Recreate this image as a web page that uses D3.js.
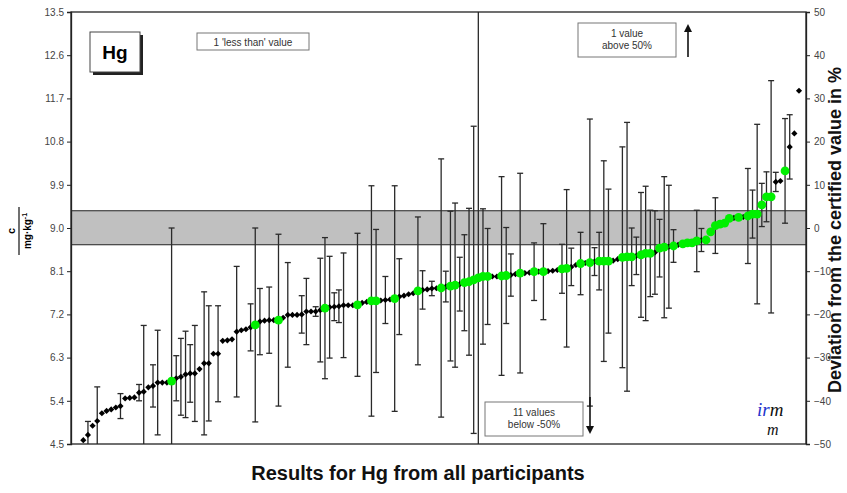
<!DOCTYPE html>
<html>
<head>
<meta charset="utf-8">
<script src="https://cdn.jsdelivr.net/npm/d3@7"></script>
<style>
  body { margin: 0; background: #fff; }
  svg { display: block; font-family: 'Liberation Sans', Arial, sans-serif; }
</style>
</head>
<body>
<svg id="chart"></svg>
<script>
// Results for Hg, sorted ascending (mg/kg)
const results = [
  4.58, 4.69, 4.88, 4.98, 5.14, 5.19, 5.22, 5.26, 5.29, 5.45,
  5.46, 5.47, 5.57, 5.59, 5.68, 5.71, 5.78, 5.78, 5.78, 5.81,
  5.87, 5.90, 5.95, 5.97, 5.97, 6.06, 6.18, 6.18, 6.38, 6.38,
  6.65, 6.66, 6.68, 6.84, 6.87, 6.89, 6.93, 6.98, 7.05, 7.07,
  7.08, 7.08, 7.08, 7.13, 7.19, 7.19, 7.19, 7.20, 7.26, 7.26,
  7.26, 7.29, 7.33, 7.35, 7.36, 7.37, 7.39, 7.39, 7.39, 7.40,
  7.44, 7.46, 7.48, 7.48, 7.49, 7.50, 7.51, 7.53, 7.57, 7.59,
  7.62, 7.64, 7.69, 7.71, 7.72, 7.74, 7.745, 7.75, 7.78, 7.79,
  7.81, 7.83, 7.86, 7.88, 7.92, 7.96, 7.99, 7.99, 7.99, 7.99,
  8.00, 8.01, 8.02, 8.04, 8.06, 8.06, 8.07, 8.09, 8.09, 8.09,
  8.10, 8.11, 8.125, 8.15, 8.16, 8.19, 8.23, 8.26, 8.27, 8.28,
  8.30, 8.31, 8.31, 8.31, 8.32, 8.35, 8.39, 8.40, 8.40, 8.42,
  8.44, 8.47, 8.47, 8.49, 8.58, 8.60, 8.61, 8.625, 8.65, 8.67,
  8.69, 8.69, 8.73, 8.75, 8.75, 8.92, 9.05, 9.08, 9.10, 9.20,
  9.21, 9.22, 9.23, 9.25, 9.29, 9.29, 9.48, 9.65, 9.65, 9.96,
  9.98, 10.19, 10.69, 10.97, 11.86
];

// Expanded uncertainty per result (0 = none reported)
const uncertainty = [
  0, 0.28, 0, 0.71, 0, 0, 0, 0, 0.26, 0,
  0, 0, 0.17, 1.38, 0, 0.44, 1.09, 0, 0, 3.19,
  0.47, 0.8, 0.9, 0.6, 1.0, 0, 1.49, 1.2, 0, 1.0,
  0, 0, 0, 1.36, 0, 0, 0.49, 2.02, 0.69, 0,
  0.69, 0, 1.79, 0, 1.09, 0, 0, 0.39, 0.69, 0,
  0.1, 1.08, 1.47, 1.06, 0.29, 0.34, 1.09, 0, 0, 1.49,
  0, 0, 2.4, 1.49, 0, 0.49, 0, 2.35, 0.79, 0,
  0, 0, 1.54, 0.4, 0, 0.15, 0, 2.69, 0.32, 1.56,
  1.71, 0.56, 1.0, 1.53, 3.2, 6.0, 1.41, 1.0, 0, 0,
  2.07, 1.0, 0.44, 0, 2.08, 0, 0, 0.6, 0, 1.0,
  0, 0, 0, 0.51, 1.64, 0.39, 0, 0.65, 0, 2.99,
  0.29, 0.6, 2.09, 1.5, 0, 0, 2.3, 2.8, 0.6, 0.39,
  1.3, 1.4, 0.9, 0.87, 0.6, 1.47, 1.28, 0.34, 0, 0,
  0, 0, 0.64, 0.24, 0, 0, 0.58, 0, 0, 0,
  0, 0, 0, 0.99, 0.5, 1.87, 0.45, 0.52, 2.42, 0.2,
  0, 1.09, 0.67, 0, 0
];

// Participants marked in green
const greenIdx = [
  19, 37, 42, 52, 59, 62, 63, 67, 72, 77, 79, 80, 82, 83, 84, 85, 86, 87,
  90, 91, 94, 97, 99, 103, 104, 107, 109, 111, 112, 113, 116, 117, 118,
  120, 121, 122, 124, 125, 127, 129, 130, 131, 132, 134, 135, 136, 137,
  138, 139, 141, 143, 144, 145, 146, 147, 148, 151
];

const certifiedValue = 9.0;
const certifiedRange = [8.65, 9.36];
const leftTicks = [4.5, 5.4, 6.3, 7.2, 8.1, 9.0, 9.9, 10.8, 11.7, 12.6, 13.5];
const rightTicks = [-50, -40, -30, -20, -10, 0, 10, 20, 30, 40, 50];

const width = 847, height = 493;
const marginLeft = 71, marginRight = 41, marginTop = 12, marginBottom = 49;
const plotRight = width - marginRight, plotBottom = height - marginBottom;

const svg = d3.select('#chart')
  .attr('width', width)
  .attr('height', height)
  .attr('viewBox', [0, 0, width, height]);

const green = new Set(greenIdx);
const I = d3.range(results.length);

const x = d3.scalePoint(I, [83.3, 799]);
const y = d3.scaleLinear([4.5, 13.5], [plotBottom, marginTop]);
const yDev = d3.scaleLinear([-50, 50], [plotBottom, marginTop]);

svg.append('defs').append('clipPath')
  .attr('id', 'plotClip')
  .append('rect')
  .attr('x', marginLeft)
  .attr('y', marginTop)
  .attr('width', plotRight - marginLeft)
  .attr('height', plotBottom - marginTop);

// Certified range band
svg.append('rect')
  .attr('x', marginLeft)
  .attr('y', y(certifiedRange[1]))
  .attr('width', plotRight - marginLeft)
  .attr('height', y(certifiedRange[0]) - y(certifiedRange[1]))
  .attr('fill', '#c0c0c0');

svg.append('g')
  .selectAll('line')
  .data(certifiedRange)
  .join('line')
  .attr('x1', marginLeft)
  .attr('x2', plotRight)
  .attr('y1', d => y(d))
  .attr('y2', d => y(d))
  .attr('stroke', '#222')
  .attr('stroke-width', 1.1);

// Error bars
const bars = svg.append('g')
  .attr('clip-path', 'url(#plotClip)')
  .attr('stroke', '#2a2a2a')
  .attr('stroke-width', 1.3)
  .selectAll('g')
  .data(I.filter(i => uncertainty[i] > 0))
  .join('g');

bars.append('line')
  .attr('x1', i => x(i))
  .attr('x2', i => x(i))
  .attr('y1', i => y(results[i] + uncertainty[i]))
  .attr('y2', i => y(results[i] - uncertainty[i]));

bars.selectAll('line.cap')
  .data(i => [[i, results[i] + uncertainty[i]], [i, results[i] - uncertainty[i]]])
  .join('line')
  .attr('class', 'cap')
  .attr('x1', d => x(d[0]) - 3)
  .attr('x2', d => x(d[0]) + 3)
  .attr('y1', d => y(d[1]))
  .attr('y2', d => y(d[1]));

// Black results
svg.append('g')
  .selectAll('path')
  .data(I.filter(i => !green.has(i)))
  .join('path')
  .attr('d', d3.symbol(d3.symbolSquare, 19))
  .attr('transform', i => `translate(${x(i)},${y(results[i])}) rotate(45)`)
  .attr('fill', '#000');

// Green results
svg.append('g')
  .selectAll('circle')
  .data(greenIdx)
  .join('circle')
  .attr('cx', i => x(i))
  .attr('cy', i => y(results[i]))
  .attr('r', 4.4)
  .attr('fill', '#00f000');

// Frame
svg.append('rect')
  .attr('x', marginLeft)
  .attr('y', marginTop)
  .attr('width', plotRight - marginLeft)
  .attr('height', plotBottom - marginTop)
  .attr('fill', 'none')
  .attr('stroke', '#222')
  .attr('stroke-width', 1.3);

// Left axis
svg.append('g')
  .attr('transform', `translate(${marginLeft},0)`)
  .call(d3.axisLeft(y).tickValues(leftTicks).tickFormat(d3.format('.1f')).tickSize(4).tickPadding(3))
  .call(g => g.select('.domain').attr('stroke', '#222').attr('stroke-width', 1.3))
  .call(g => g.selectAll('.tick line').attr('stroke', '#222'))
  .call(g => g.selectAll('.tick text')
    .attr('fill', '#444')
    .attr('font-size', 10));

// Right axis
svg.append('g')
  .attr('transform', `translate(${plotRight},0)`)
  .call(d3.axisRight(yDev).tickValues(rightTicks).tickSize(4).tickPadding(4))
  .call(g => g.select('.domain').attr('stroke', '#222').attr('stroke-width', 1.3))
  .call(g => g.selectAll('.tick line').attr('stroke', '#222'))
  .call(g => g.selectAll('.tick text')
    .attr('fill', '#444')
    .attr('font-size', 10));

// Left axis label: c / (mg·kg-1)
const ylab = svg.append('g')
  .attr('transform', 'translate(19,231) rotate(-90)');
ylab.append('line')
  .attr('x1', -24).attr('x2', 24)
  .attr('stroke', '#111').attr('stroke-width', 1.2);
ylab.append('text')
  .attr('y', -4)
  .attr('text-anchor', 'middle')
  .attr('font-size', 11)
  .attr('font-weight', 'bold')
  .text('c');
ylab.append('text')
  .attr('y', 12)
  .attr('text-anchor', 'middle')
  .attr('font-size', 10)
  .attr('font-weight', 'bold')
  .text('mg·kg')
  .append('tspan')
  .attr('dy', -4)
  .attr('font-size', 7)
  .text('-1');

// Right axis title
svg.append('text')
  .attr('transform', `translate(841,${(marginTop + plotBottom) / 2 + 2}) rotate(-90)`)
  .attr('text-anchor', 'middle')
  .attr('font-size', 18)
  .attr('font-weight', 'bold')
  .attr('fill', '#111')
  .text('Deviation from the certified value in %');

// X title
svg.append('text')
  .attr('x', 418)
  .attr('y', 480)
  .attr('text-anchor', 'middle')
  .attr('font-size', 20)
  .attr('font-weight', 'bold')
  .attr('fill', '#111')
  .text('Results for Hg from all participants');

// "Hg" box with shadow
svg.append('rect')
  .attr('x', 93).attr('y', 35).attr('width', 50).attr('height', 40)
  .attr('fill', '#222');
svg.append('rect')
  .attr('x', 90).attr('y', 32).attr('width', 50).attr('height', 40)
  .attr('fill', '#fff').attr('stroke', '#444').attr('stroke-width', 1);
svg.append('text')
  .attr('x', 115).attr('y', 59)
  .attr('text-anchor', 'middle')
  .attr('font-size', 19)
  .attr('font-weight', 'bold')
  .text('Hg');

// Note boxes
const notes = [
  { x: 197, y: 33, w: 112, h: 17, lines: ["1 'less than' value"] },
  { x: 578, y: 23, w: 98, h: 34, lines: ['1 value', 'above 50%'] },
  { x: 485, y: 402, w: 98, h: 34, lines: ['11 values', 'below -50%'] }
];
notes.forEach(n => {
  svg.append('rect')
    .attr('x', n.x).attr('y', n.y).attr('width', n.w).attr('height', n.h)
    .attr('fill', '#fff').attr('stroke', '#777').attr('stroke-width', 1);
  svg.append('text')
    .attr('text-anchor', 'middle')
    .attr('font-size', 10)
    .attr('fill', '#333')
    .selectAll('tspan')
    .data(n.lines)
    .join('tspan')
    .attr('x', n.x + n.w / 2)
    .attr('y', (_, k) => n.y + (n.lines.length === 1 ? 12.5 : 14 + k * 12))
    .text(d => d);
});

// Arrows for out-of-range values
svg.append('defs').append('marker')
  .attr('id', 'arrowHead')
  .attr('viewBox', '0 0 10 10')
  .attr('refX', 5).attr('refY', 5)
  .attr('markerWidth', 5).attr('markerHeight', 6)
  .attr('orient', 'auto')
  .append('path')
  .attr('d', 'M0,0 L10,5 L0,10 Z')
  .attr('fill', '#111');

svg.append('line')
  .attr('x1', 688).attr('x2', 688)
  .attr('y1', 57).attr('y2', 28)
  .attr('stroke', '#111').attr('stroke-width', 1.6)
  .attr('marker-end', 'url(#arrowHead)');

svg.append('line')
  .attr('x1', 590).attr('x2', 590)
  .attr('y1', 397).attr('y2', 430)
  .attr('stroke', '#111').attr('stroke-width', 1.6)
  .attr('marker-end', 'url(#arrowHead)');

// IRMM logo: "irm" on top, second "m" below
const logoFont = "'Liberation Serif', 'DejaVu Serif', serif";
const logoTop = svg.append('text')
  .attr('x', 757).attr('y', 416)
  .attr('font-family', logoFont)
  .attr('font-style', 'italic')
  .attr('font-size', 19);
logoTop.append('tspan').attr('fill', '#2233cc').text('ir');
logoTop.append('tspan').attr('fill', '#111').text('m');
svg.append('text')
  .attr('x', 767).attr('y', 435)
  .attr('font-family', logoFont)
  .attr('font-style', 'italic')
  .attr('font-size', 16)
  .attr('fill', '#111')
  .text('m');
</script>
</body>
</html>
